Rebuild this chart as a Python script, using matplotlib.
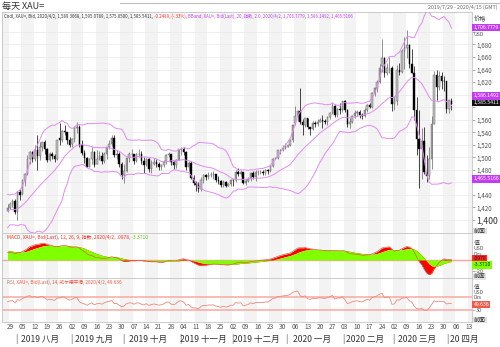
import numpy as np
import pandas as pd
import matplotlib
matplotlib.use('Agg')
import matplotlib.pyplot as plt
from matplotlib import transforms

plt.rcParams['font.family'] = ['Noto Sans CJK SC', 'DejaVu Sans']

# ---------------- data ----------------
start_date = '2019-07-26'
end_date = '2020-04-02'
ref_monday = '2019-07-29'

# closes before the visible range (used only to warm up the indicators)
warmup_closes = [
    1284, 1270, 1279, 1281, 1285, 1281, 1284, 1285, 1301, 1296, 1297, 1286, 1277, 1277, 1273, 1274, 1283, 1285,
    1284, 1278, 1280, 1288, 1305,
    1327, 1324, 1333, 1337, 1341, 1327, 1327, 1335, 1341, 1341, 1340, 1346, 1360, 1392, 1399, 1419, 1423, 1408,
    1411, 1409,
    1385, 1418, 1419, 1414, 1399, 1395, 1397, 1419, 1403, 1415, 1414, 1405, 1426, 1446, 1426, 1425, 1418, 1426, 1414,
]

opens = [1414,
    1419, 1426, 1430, 1413, 1445,  1441, 1464, 1474, 1498, 1509,  1497, 1511, 1502, 1516, 1524,
    1513, 1496, 1506, 1502, 1498,  1530, 1527, 1542, 1540, 1528,  1521, 1529, 1547, 1549, 1519,
    1507, 1499, 1485, 1497, 1508,  1490, 1498, 1502, 1494, 1506,  1516, 1522, 1531, 1504, 1505,
    1489, 1472, 1478, 1499, 1505,  1505, 1494, 1505, 1505, 1494,  1488, 1498, 1482, 1490, 1493,
    1490, 1484, 1487, 1492, 1504,  1505, 1492, 1487, 1496, 1513,  1514, 1509, 1484, 1491, 1467,
    1459, 1456, 1449, 1463, 1471,  1468, 1472, 1472, 1473, 1464,  1462, 1456, 1461, 1455, 1457,
    1464, 1463, 1477, 1474, 1476,  1459, 1462, 1465, 1475, 1469,  1476, 1476, 1476, 1475, 1479,
    1478, 1486, 1498, 1499, 1511,  1511, 1515, 1517, 1519, 1528,  1555, 1566, 1574, 1556, 1552,
    1562, 1548, 1545, 1554, 1553,  1557, 1560, 1558, 1557, 1564,  1571, 1582, 1567, 1577, 1576,
    1589, 1576, 1553, 1556, 1566,  1570, 1572, 1568, 1566, 1576,  1584, 1580, 1602, 1611, 1620,
    1645, 1659, 1635, 1642, 1643,  1585, 1589, 1640, 1636, 1669,  1674, 1679, 1649, 1635, 1576,
    1529, 1514, 1526, 1477, 1470,  1498, 1553, 1632, 1612, 1629,  1622, 1621, 1577, 1589.3668]

highs = [1426,
    1429, 1433, 1433, 1446, 1450,  1466, 1475, 1504, 1510, 1510,  1519, 1535, 1525, 1525, 1527,
    1515, 1508, 1509, 1505, 1528,  1555, 1543, 1551, 1541, 1532,  1531, 1550, 1557, 1552, 1527,
    1512, 1500, 1499, 1516, 1510,  1512, 1510, 1508, 1508, 1517,  1527, 1535, 1536, 1512, 1508,
    1492, 1489, 1500, 1508, 1513,  1506, 1507, 1513, 1510, 1500,  1499, 1499, 1495, 1499, 1497,
    1492, 1489, 1496, 1505, 1508,  1506, 1494, 1498, 1514, 1517,  1516, 1510, 1494, 1494, 1471,
    1462, 1461, 1468, 1474, 1473,  1477, 1476, 1478, 1474, 1470,  1464, 1463, 1462, 1459, 1466,
    1465, 1479, 1483, 1480, 1477,  1465, 1468, 1477, 1478, 1479,  1480, 1479, 1479, 1481, 1481,
    1488, 1499, 1500, 1512, 1514,  1520, 1523, 1520, 1529, 1553,  1582, 1576, 1611, 1561, 1563,
    1563, 1549, 1558, 1558, 1561,  1562, 1568, 1561, 1566, 1573,  1588, 1584, 1578, 1586, 1590,
    1592, 1577, 1563, 1568, 1575,  1575, 1575, 1570, 1578, 1585,  1586, 1604, 1612, 1624, 1649,
    1689, 1660, 1651, 1660, 1645,  1598, 1648, 1650, 1672, 1692,  1703, 1680, 1672, 1645, 1596,
    1575, 1547, 1548, 1504, 1516,  1566, 1637, 1640, 1637, 1636,  1630, 1622, 1592, 1595.0789]

lows = [1413,
    1417, 1420, 1410, 1400, 1432,  1440, 1455, 1472, 1490, 1493,  1494, 1480, 1495, 1510, 1505,
    1492, 1494, 1498, 1492, 1495,  1520, 1525, 1535, 1522, 1516,  1517, 1524, 1538, 1516, 1504,
    1491, 1484, 1485, 1490, 1485,  1490, 1495, 1490, 1491, 1498,  1513, 1518, 1501, 1498, 1485,
    1465, 1459, 1476, 1493, 1500,  1490, 1492, 1501, 1490, 1475,  1486, 1476, 1475, 1487, 1484,
    1479, 1480, 1484, 1490, 1500,  1488, 1482, 1483, 1495, 1504,  1503, 1480, 1478, 1465, 1456,
    1446, 1445, 1447, 1459, 1463,  1466, 1468, 1466, 1460, 1458,  1452, 1453, 1452, 1454, 1455,
    1454, 1461, 1470, 1470, 1458,  1456, 1460, 1462, 1465, 1462,  1472, 1473, 1472, 1472, 1474,
    1477, 1485, 1497, 1498, 1506,  1510, 1513, 1516, 1518, 1525,  1552, 1558, 1553, 1535, 1548,
    1545, 1536, 1543, 1548, 1550,  1556, 1546, 1553, 1551, 1561,  1569, 1564, 1565, 1569, 1572,
    1572, 1548, 1547, 1554, 1562,  1566, 1562, 1561, 1564, 1573,  1578, 1578, 1598, 1604, 1618,
    1636, 1628, 1631, 1635, 1574,  1575, 1584, 1631, 1634, 1641,  1658, 1643, 1634, 1560, 1504,
    1451, 1466, 1474, 1460, 1466,  1482, 1553, 1592, 1608, 1609,  1605, 1570, 1570, 1575.05]

closes = [1419,
    1426, 1430, 1413, 1445, 1440,  1464, 1474, 1498, 1509, 1497,  1511, 1502, 1516, 1524, 1513,
    1496, 1506, 1502, 1498, 1527,  1527, 1542, 1540, 1528, 1520,  1529, 1547, 1549, 1519, 1507,
    1499, 1485, 1497, 1508, 1488,  1498, 1502, 1494, 1506, 1516,  1522, 1531, 1504, 1505, 1489,
    1472, 1478, 1499, 1505, 1505,  1494, 1505, 1505, 1494, 1488,  1498, 1482, 1490, 1493, 1490,
    1484, 1487, 1492, 1504, 1505,  1492, 1487, 1496, 1513, 1514,  1509, 1484, 1491, 1467, 1459,
    1456, 1449, 1463, 1471, 1468,  1472, 1472, 1473, 1464, 1462,  1456, 1461, 1455, 1457, 1464,
    1463, 1477, 1474, 1476, 1459,  1462, 1465, 1475, 1469, 1476,  1476, 1476, 1475, 1479, 1478,
    1486, 1498, 1499, 1511, 1511,  1515, 1517, 1519, 1528, 1552,  1566, 1574, 1556, 1552, 1562,
    1548, 1545, 1554, 1553, 1557,  1560, 1558, 1557, 1564, 1571,  1582, 1567, 1577, 1576, 1589,
    1576, 1553, 1556, 1566, 1570,  1572, 1568, 1566, 1576, 1584,  1580, 1602, 1611, 1620, 1643,
    1659, 1635, 1642, 1643, 1585,  1589, 1640, 1636, 1669, 1674,  1679, 1649, 1635, 1576, 1529,
    1514, 1526, 1477, 1470, 1498,  1553, 1632, 1612, 1629, 1622,  1621, 1577, 1591, 1585.5411]

# last values as printed by the reference chart
bb_last = [1706.7779, 1586.1492, 1465.5166]   # upper, middle, lower
macd_last = [0.0978, -3.3710]                 # MACD, signal
rsi_last = 49.636
change_text = '-0.2489, (-.33%)'

price_ticks = list(range(1400, 1701, 20))
hidden_price_labels = [1700, 1600, 1580, 1460]
day_tick_end = '2020-04-13'
month_names = ['2019 八月', '2019 九月', '2019 十月', '2019 十一月', '2019 十二月',
               '2020 一月', '2020 二月', '2020 三月', '20 四月']
month_starts = ['2019-08-01', '2019-09-02', '2019-10-01', '2019-11-01', '2019-12-02',
                '2020-01-01', '2020-02-03', '2020-03-02', '2020-04-01']

# ---------------- derived ----------------
dates = pd.bdate_range(start_date, end_date)
n = len(dates)
assert n == len(opens) == len(highs) == len(lows) == len(closes)
def bpos(d):
    return int(np.busday_count(np.datetime64(ref_monday), np.datetime64(pd.Timestamp(d).date())))
xs = np.array([bpos(d) for d in dates], float)
o = np.array(opens, float); h = np.array(highs, float)
l = np.array(lows, float); c = np.array(closes, float)

allc = pd.Series(np.array(warmup_closes + closes, float))
mid = allc.rolling(20).mean()
sd = allc.rolling(20).std(ddof=0)
upper = (mid + 2 * sd).values[-n:]
lower = (mid - 2 * sd).values[-n:]
mid = mid.values[-n:]
ema12 = allc.ewm(span=12, adjust=False).mean()
ema26 = allc.ewm(span=26, adjust=False).mean()
macd_s = ema12 - ema26
sig_s = macd_s.ewm(span=9, adjust=False).mean()
macd = macd_s.values[-n:]; sig = sig_s.values[-n:]
delta = allc.diff()
gain = delta.clip(lower=0).ewm(alpha=1/14, adjust=False).mean()
loss = (-delta.clip(upper=0)).ewm(alpha=1/14, adjust=False).mean()
rsi = (100 - 100 / (1 + gain / loss)).values[-n:]

# ---------------- figure ----------------
W, H = 500, 347
fig = plt.figure(figsize=(5, 3.47), dpi=100)
fig.patch.set_facecolor('white')

def rect(lp, tp, rp, bp):
    return [lp / W, 1 - bp / H, (rp - lp) / W, (bp - tp) / H]

ax = fig.add_axes(rect(2, 12, 472, 233))
axm = fig.add_axes(rect(2, 233, 472, 278), sharex=ax)
axr = fig.add_axes(rect(2, 278, 472, 322), sharex=ax)

pxd = 2.48
x0 = 10.0
xl = ((2 - x0) / pxd, (472 - x0) / pxd)
ax.set_xlim(*xl)
ax.set_ylim(1400 - 13 / 0.627, 1400 + 208 / 0.627)
axm.set_ylim(-32.7, 49)
axr.set_ylim(-4.5, 125)

spine_c = '#c4c4c4'
for a in (ax, axm, axr):
    for s in a.spines.values():
        s.set_color(spine_c)
        s.set_linewidth(0.6)
    a.set_facecolor('white')
    for k in range(-1, 38):
        if k % 2 != 0:
            a.axvspan(5 * k - 0.5, 5 * k + 4.5, color='#f3f3f3', lw=0, zorder=0)
    a.yaxis.tick_right()
    a.tick_params(axis='y', labelsize=4.5, length=2, width=0.5, pad=1,
                  colors='#8a8a8a', labelcolor='#555555')

for v in price_ticks:
    ax.axhline(v, color='#e8e8e8', lw=0.5, zorder=0.5)

# candles
up = c >= o
wick_c = np.where(up, '#666666', '#000000')
ax.vlines(xs, l, h, colors=wick_c, lw=0.5, zorder=2)
ax.bar(xs[up], (c - o)[up], bottom=o[up], width=0.62, color='#c2c2c2',
       edgecolor='#555555', linewidth=0.3, zorder=3)
ax.bar(xs[~up], (o - c)[~up], bottom=c[~up], width=0.62, color='#000000',
       edgecolor='#000000', linewidth=0.3, zorder=3)

# bollinger
bb_c = '#e08cf2'
for band in (upper, mid, lower):
    ax.plot(xs, band, color=bb_c, lw=0.7, zorder=4)

ax.set_yticks(price_ticks)
ax.set_yticklabels(['' if v in hidden_price_labels else f'{v:,}' for v in price_ticks])
for lab in ax.get_yticklabels():
    if lab.get_text() == '1,400':
        lab.set_fontsize(6.3)
        lab.set_color('#333333')

# MACD
axm.fill_between(xs, sig, macd, color='#ff0000', lw=0, zorder=2)
axm.fill_between(xs, 0, sig, color='#80ff00', lw=0, zorder=3)
axm.plot(xs, macd, color='#e0603a', lw=0.5, zorder=4)
axm.axhline(0, color='#f5a898', lw=1.0, zorder=1.5)
axm.set_yticks([-20])
axm.set_yticklabels(['-20'])
axm.tick_params(axis='y', labelsize=4.0)

# RSI
axr.plot(xs, rsi, color='#ef8a7c', lw=0.6, zorder=3)
axr.axhline(70, color='#f6aaa0', lw=1.1, zorder=2)
axr.axhline(30, color='#f6aaa0', lw=1.1, zorder=2)
axr.set_yticks([30])
axr.set_yticklabels(['30'])
axr.tick_params(axis='y', labelsize=4.0)

# x axis (day numbers)
mondays = pd.date_range(ref_monday, day_tick_end, freq='W-MON')
for a in (ax, axm):
    a.tick_params(axis='x', bottom=False, labelbottom=False)
axr.set_xticks([bpos(d) for d in mondays])
axr.set_xticklabels([d.strftime('%d') for d in mondays])
axr.tick_params(axis='x', length=0, pad=1.0, labelsize=4.8, labelcolor='#555555')
ax.set_xlim(*xl)

# month labels
btr = transforms.blended_transform_factory(axr.transData, fig.transFigure)
bounds = [bpos(d) - 0.5 for d in month_starts]
ybot = 1 - 339 / H
for i, name in enumerate(month_names):
    b = bounds[i]
    fig.text(b, ybot, '|', transform=btr, ha='center', va='center', fontsize=6, color='#444444')
    if i + 1 < len(bounds):
        ctr = (b + bounds[i + 1]) / 2 - 1.2
        fig.text(ctr, ybot, name, transform=btr, ha='center', va='center', fontsize=6.2, color='#333333')
    else:
        fig.text(b + 0.9, ybot, name, transform=btr, ha='left', va='center', fontsize=6.2, color='#333333')

# right-hand labels
def rlabel(ypx, s, size=4.5, color='#555555', bg=None):
    kw = {}
    if bg is not None:
        kw['bbox'] = dict(boxstyle='square,pad=0.12', fc=bg, ec='none')
    fig.text(474 / W, 1 - ypx / H, s, fontsize=size, color=color, ha='left', va='center', **kw)

def vbox(a, val, s, fc, tc, dy=0.0):
    a.annotate(s, xy=(1, val), xycoords=('axes fraction', 'data'), xytext=(1.0, dy),
               textcoords='offset points', ha='left', va='center', fontsize=3.7, color=tc,
               bbox=dict(boxstyle='square,pad=0.25', fc=fc, ec='none'), annotation_clip=False, zorder=10)

rlabel(19, '价格', 4.5, '#444444')
rlabel(35, 'USD', 3.8, '#555555')
vbox(ax, bb_last[0], f'{bb_last[0]:,.4f}', '#c23cf2', '#ffffff')
vbox(ax, c[-1], f'{c[-1]:,.4f}', '#111111', '#ffffff', dy=1.0)
vbox(ax, bb_last[1], f'{bb_last[1]:,.4f}', '#c23cf2', '#ffffff', dy=5.3)
vbox(ax, bb_last[2], f'{bb_last[2]:,.4f}', '#c23cf2', '#ffffff')
rlabel(231, '前面', 4.3, '#333333', '#e2e2e2')

rlabel(243, '值', 4.3, '#444444')
rlabel(249, 'USD', 3.8, '#555555')
rlabel(254.5, 'Dzs', 3.8, '#555555')
vbox(axm, macd_last[0], f'{macd_last[0]:.4f}'.lstrip('0'), '#ff2a2a', '#330000', dy=1.0)
vbox(axm, macd_last[1], f'{macd_last[1]:.4f}', '#80ff00', '#003300', dy=-2.2)
rlabel(276.5, '前面', 4.2, '#333333', '#e2e2e2')

rlabel(287.5, '值', 4.0, '#444444')
rlabel(292.5, 'USD', 3.6, '#555555')
rlabel(297.3, 'Dzs', 3.6, '#555555')
vbox(axr, rsi_last, f'{rsi_last:.3f}', '#f05a48', '#ffffff', dy=-0.6)
rlabel(320, '前面', 4.3, '#333333', '#e2e2e2')

# titles / legends
fig.text(2 / W, 1 - 6 / H, '每天 XAU=', fontsize=6.5, color='#333333', ha='left', va='center')
fig.text(498 / W, 1 - 7 / H, '2019/7/29 - 2020/4/15 (GMT)', fontsize=3.8, color='#666666', ha='right', va='center')
fig.add_artist(plt.Line2D([120 / W, 1], [1 - 2.5 / H, 1 - 2.5 / H], color='#bdbdbd', lw=0.8))

renderer = fig.canvas.get_renderer()
def multicolor(xp, yp, parts, size):
    x = xp
    for s, col in parts:
        t = fig.text(x / W, 1 - yp / H, s, color=col, fontsize=size, ha='left', va='center')
        x += t.get_window_extent(renderer=renderer).width

multicolor(4, 16, [
    (f'Cndl, XAU=, Bid, 2020/4/2, {o[-1]:,.4f}, {h[-1]:,.4f}, {l[-1]:,.4f}, {c[-1]:,.4f},', '#333333'),
    (' ' + change_text + ',', '#ff2a2a'),
    (f' BBand, XAU=, Bid(Last), 20, 指数, 2.0, 2020/4/2, {bb_last[0]:,.4f}, {bb_last[1]:,.4f}, {bb_last[2]:,.4f}', '#c040f0'),
], 3.1)
multicolor(7, 237.5, [
    (f'MACD, XAU=, Bid(Last), 12, 26, 9, 指数, 2020/4/2, {macd_last[0]:.4f},'.replace(' 0.', ' .'), '#ee3322'),
    (f' {macd_last[1]:.4f}', '#55cc00'),
], 3.5)
multicolor(7, 282, [
    (f'RSI, XAU=, Bid(Last), 14, 威尔德平滑, 2020/4/2, {rsi_last:.3f}', '#ee5544'),
], 3.4)

fig.savefig('out.png', dpi=100, facecolor='white')
